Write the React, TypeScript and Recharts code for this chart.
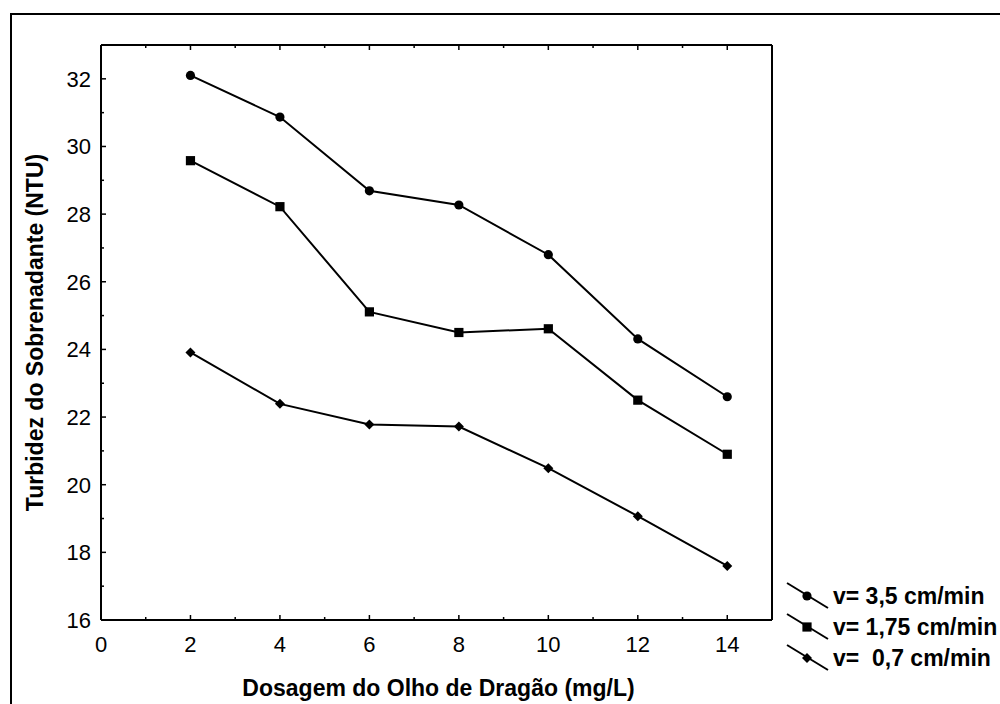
import React from "react";
import { LineChart, Line, XAxis, YAxis, Legend, Label } from "recharts";

// dosagem (mg/L) e turbidez (NTU)
const dosagem = [2, 4, 6, 8, 10, 12, 14];
const turbV35 = [32.1, 30.87, 28.69, 28.27, 26.8, 24.31, 22.6];
const turbV175 = [29.58, 28.22, 25.11, 24.5, 24.61, 22.5, 20.9];
const turbV07 = [23.91, 22.39, 21.78, 21.72, 20.49, 19.07, 17.6];

const seriesNames = ["v= 3,5 cm/min", "v= 1,75 cm/min", "v=  0,7 cm/min"];
const seriesKeys = ["v35", "v175", "v07"];
const seriesShapes = ["circle", "square", "diamond"];

const xTicks = [0, 1, 2, 3, 4, 5, 6, 7, 8, 9, 10, 11, 12, 13, 14, 15];
const xLabels = [0, 2, 4, 6, 8, 10, 12, 14];
const yTicks = [16, 17, 18, 19, 20, 21, 22, 23, 24, 25, 26, 27, 28, 29, 30, 31, 32, 33];
const yLabels = [16, 18, 20, 22, 24, 26, 28, 30, 32];

const data = dosagem.map((x, i) => ({
  x,
  v35: turbV35[i],
  v175: turbV175[i],
  v07: turbV07[i],
}));

const FONT = "'Liberation Sans', Arial, Helvetica, sans-serif";

function Marker({ shape, cx, cy }: { shape: string; cx: number; cy: number }) {
  if (shape === "circle") return <circle cx={cx} cy={cy} r={4.6} fill="#000" />;
  if (shape === "square")
    return <rect x={cx - 4.6} y={cy - 4.6} width={9.2} height={9.2} fill="#000" />;
  return (
    <polygon
      points={`${cx},${cy - 5} ${cx + 5},${cy} ${cx},${cy + 5} ${cx - 5},${cy}`}
      fill="#000"
    />
  );
}

const makeDot = (shape: string) => (props: any) => (
  <Marker key={`${shape}-${props.index}`} shape={shape} cx={props.cx} cy={props.cy} />
);

const tickLen = (v: number, labels: number[]) => (labels.includes(v) ? 5 : 3);

function BottomTick({ x, y, payload }: any) {
  const v = payload.value;
  return (
    <g>
      <line x1={x} y1={y} x2={x} y2={y - tickLen(v, xLabels)} stroke="#000" strokeWidth={1.5} />
      {xLabels.includes(v) && (
        <text x={x} y={y + 32} textAnchor="middle" fontSize={22} fontFamily={FONT} fill="#000">
          {v}
        </text>
      )}
    </g>
  );
}

// eixo superior: altura 1, a linha fica em y + 1
function TopTick({ x, y, payload }: any) {
  return (
    <line x1={x} y1={y} x2={x} y2={y + tickLen(payload.value, xLabels)} stroke="#000" strokeWidth={1.5} />
  );
}

function LeftTick({ x, y, payload }: any) {
  const v = payload.value;
  return (
    <g>
      <line x1={x} y1={y} x2={x + tickLen(v, yLabels)} y2={y} stroke="#000" strokeWidth={1.5} />
      {yLabels.includes(v) && (
        <text x={x - 10} y={y + 8} textAnchor="end" fontSize={22} fontFamily={FONT} fill="#000">
          {v}
        </text>
      )}
    </g>
  );
}

function RightTick({ x, y, payload }: any) {
  return (
    <line x1={x} y1={y} x2={x - tickLen(payload.value, yLabels)} y2={y} stroke="#000" strokeWidth={1.5} />
  );
}

const renderXTitle = (props: any) => {
  const vb = props.viewBox;
  return (
    <text
      x={vb.x + vb.width / 2 + 2}
      y={vb.y + 76}
      textAnchor="middle"
      fontSize={23}
      fontWeight="bold"
      fontFamily={FONT}
      fill="#000"
    >
      Dosagem do Olho de Dragão (mg/L)
    </text>
  );
};

const renderYTitle = (props: any) => {
  const vb = props.viewBox;
  const cx = vb.x + 43;
  const cy = vb.y + vb.height / 2;
  return (
    <text
      x={cx}
      y={cy}
      transform={`rotate(-90, ${cx}, ${cy})`}
      textAnchor="middle"
      fontSize={23}
      fontWeight="bold"
      fontFamily={FONT}
      fill="#000"
    >
      Turbidez do Sobrenadante (NTU)
    </text>
  );
};

const renderLegend = (props: any) => {
  const payload = props.payload || [];
  return (
    <svg width={220} height={110}>
      {payload.map((entry: any) => {
        const idx = seriesKeys.indexOf(entry.dataKey);
        const cy = 26 + idx * 31;
        return (
          <g key={entry.dataKey}>
            <line x1={7} y1={cy - 13} x2={48} y2={cy + 12} stroke="#000" strokeWidth={2} />
            <Marker shape={seriesShapes[idx]} cx={27} cy={cy} />
            <text
              x={53}
              y={cy + 8}
              fontSize={23}
              fontWeight="bold"
              fontFamily={FONT}
              fill="#000"
              style={{ whiteSpace: "pre" }}
              xmlSpace="preserve"
            >
              {entry.value}
            </text>
          </g>
        );
      })}
    </svg>
  );
};

export default function App() {
  return (
    <div style={{ position: "absolute", left: 0, top: 0, width: 1000, height: 704, background: "#fff" }}>
      <div
        style={{
          position: "absolute",
          left: 10,
          top: 13,
          width: 990,
          height: 691,
          borderTop: "2px solid #000",
          borderLeft: "2px solid #000",
          boxSizing: "border-box",
        }}
      />
      <div style={{ position: "absolute", left: 0, top: 0 }}>
        <LineChart
          width={1000}
          height={704}
          data={data}
          margin={{ top: 44, right: 227, left: 0, bottom: 0 }}
        >
          <XAxis
            dataKey="x"
            type="number"
            domain={[0, 15]}
            ticks={xTicks}
            interval={0}
            height={84}
            tickSize={0}
            tickMargin={0}
            tickLine={false}
            tick={<BottomTick />}
            axisLine={{ stroke: "#000", strokeWidth: 2 }}
          >
            <Label content={renderXTitle} />
          </XAxis>
          <XAxis
            xAxisId="top"
            orientation="top"
            dataKey="x"
            type="number"
            domain={[0, 15]}
            ticks={xTicks}
            interval={0}
            height={1}
            tickSize={0}
            tickMargin={0}
            tickLine={false}
            tick={<TopTick />}
            axisLine={{ stroke: "#000", strokeWidth: 2 }}
          />
          <YAxis
            type="number"
            domain={[16, 33]}
            ticks={yTicks}
            interval={0}
            width={101}
            tickSize={0}
            tickMargin={0}
            tickLine={false}
            tick={<LeftTick />}
            axisLine={{ stroke: "#000", strokeWidth: 2 }}
          >
            <Label content={renderYTitle} />
          </YAxis>
          <YAxis
            yAxisId="right"
            orientation="right"
            type="number"
            domain={[16, 33]}
            ticks={yTicks}
            interval={0}
            width={1}
            tickSize={0}
            tickMargin={0}
            tickLine={false}
            tick={<RightTick />}
            axisLine={{ stroke: "#000", strokeWidth: 2 }}
          />
          <Legend
            layout="vertical"
            align="center"
            verticalAlign="middle"
            content={renderLegend}
            wrapperStyle={{ left: 780, top: 570, width: 220, height: 110 }}
          />
          {seriesKeys.map((key, i) => (
            <Line
              key={key}
              dataKey={key}
              name={seriesNames[i]}
              type="linear"
              stroke="#000"
              strokeWidth={2}
              dot={makeDot(seriesShapes[i])}
              activeDot={false}
              legendType="line"
              isAnimationActive={false}
            />
          ))}
        </LineChart>
      </div>
    </div>
  );
}
